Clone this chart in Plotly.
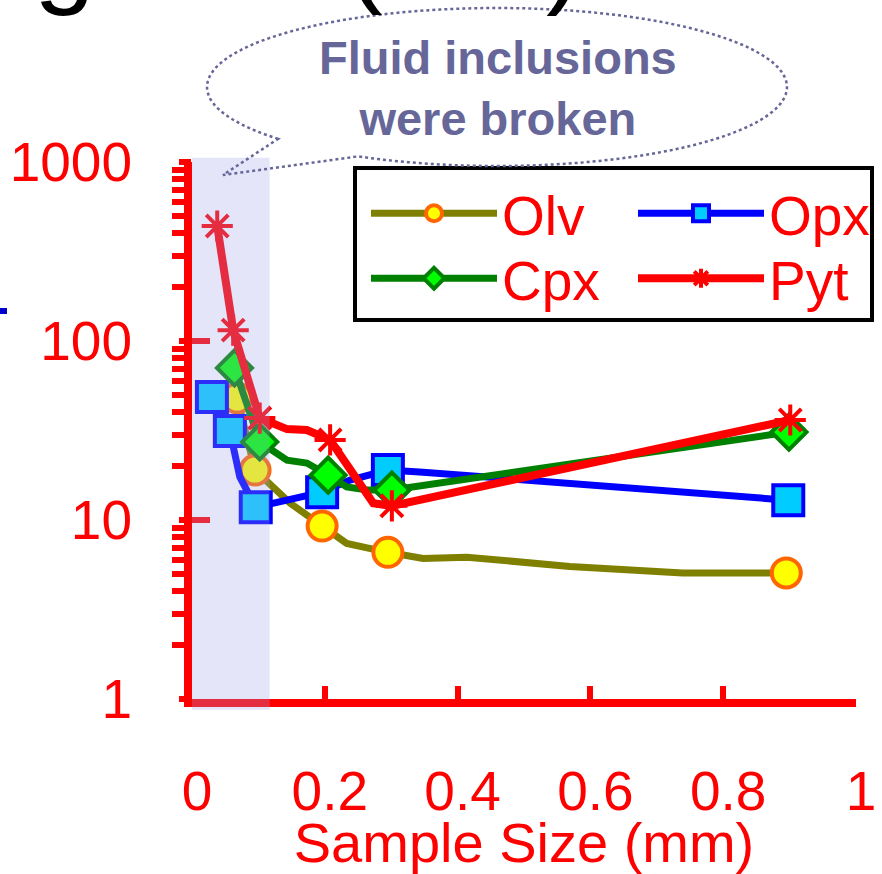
import numpy as np
import plotly.graph_objects as go

# ---------------- data ----------------
# marker flag 1 = point drawn with a marker, 0 = line vertex only
olv_x = [0.068, 0.095, 0.148, 0.196, 0.233, 0.295, 0.348, 0.414, 0.569, 0.739, 0.825, 0.895]
olv_y = [48, 19, 12.4, 9.25, 7.4, 6.6, 6.1, 6.2, 5.5, 5.06, 5.06, 5.06]
olv_mk = [1, 1, 0, 1, 0, 1, 0, 0, 0, 0, 0, 1]

opx_x = [0.030, 0.057, 0.072, 0.096, 0.196, 0.238, 0.295, 0.348, 0.898]
opx_y = [48.7, 31.4, 17.4, 11.8, 14.3, 16.7, 19.0, 18.5, 12.9]
opx_mk = [1, 1, 0, 1, 1, 0, 1, 0, 1]

cpx_x = [0.064, 0.102, 0.143, 0.173, 0.205, 0.233, 0.264, 0.301, 0.899]
cpx_y = [70.7, 27.3, 21.6, 20.8, 17.8, 15.3, 14.7, 14.7, 31]
cpx_mk = [1, 1, 0, 0, 1, 0, 0, 1, 1]

pyt_x = [0.038, 0.062, 0.102, 0.143, 0.173, 0.208, 0.273, 0.301, 0.901]
pyt_y = [439, 115, 37.1, 32.2, 31.8, 28, 12.4, 12.0, 36.2]
pyt_mk = [1, 1, 1, 0, 0, 1, 0, 1, 1]

series_names = ["Olv", "Opx", "Cpx", "Pyt"]
x_ticks = [0, 0.2, 0.4, 0.6, 0.8, 1]
x_tick_text = ["0", "0.2", "0.4", "0.6", "0.8", "1"]
y_ticks = [1, 10, 100, 1000]
y_tick_text = ["1", "10", "100", "1000"]
y_minor = [m * 10 ** d for d in range(3) for m in range(2, 10)]
shade_x = [0, 0.117]

x_title = "Sample Size (mm)"
callout_text = "Fluid inclusions<br>were broken"

# ---------------- styles ----------------
RED = "#FF0000"
FONT = "Liberation Sans, Arial, sans-serif"
W, H = 882, 874
ML, MR, MT, MB = 192, 26, 162, 175
PW, PH = W - ML - MR, H - MT - MB


def px2paper(px, py):
    return (px - ML) / PW, (H - MB - py) / PH


styles = {
    "Olv": dict(line="#808000", fill="#FFFF00", edge="#FF6600", symbol="circle", size=29, mlw=4, lw=7),
    "Opx": dict(line="#0000FF", fill="#00CCFF", edge="#0000FF", symbol="square", size=30, mlw=4, lw=7),
    "Cpx": dict(line="#008000", fill="#00FF00", edge="#008000", symbol="diamond", size=27, mlw=4, lw=7),
    "Pyt": dict(line="#FF0000", fill="#FF0000", edge="#FF0000", symbol="asterisk-open", size=26, mlw=4, lw=8),
}
legend_of = {"Olv": "legend", "Opx": "legend", "Cpx": "legend2", "Pyt": "legend2"}
data = {
    "Olv": (olv_x, olv_y, olv_mk),
    "Opx": (opx_x, opx_y, opx_mk),
    "Cpx": (cpx_x, cpx_y, cpx_mk),
    "Pyt": (pyt_x, pyt_y, pyt_mk),
}

fig = go.Figure()
TR = "rgba(0,0,0,0)"
for name in series_names:
    xs, ys, mk = data[name]
    s = styles[name]
    fig.add_trace(go.Scatter(
        x=xs, y=ys, name=name, mode="lines+markers", legend=legend_of[name],
        line=dict(color=s["line"], width=s["lw"]),
        marker=dict(
            symbol=s["symbol"], size=s["size"],
            color=[s["fill"] if m else TR for m in mk],
            line=dict(color=[s["edge"] if m else TR for m in mk], width=s["mlw"]),
        ),
    ))

# invisible trace to carry the outside half of the major y ticks
fig.add_trace(go.Scatter(x=[None], y=[None], yaxis="y2", showlegend=False, hoverinfo="skip"))

# shaded region (drawn above the lines, translucent)
fig.add_shape(type="rect", xref="x", yref="paper", x0=shade_x[0], x1=shade_x[1],
              y0=-0.02, y1=1.008, fillcolor="rgba(162,162,237,0.28)", line_width=0, layer="above")

# legend frame
f0 = px2paper(355, 168)
f1 = px2paper(872, 320)
fig.add_shape(type="rect", xref="paper", yref="paper", x0=f0[0], y0=f1[1], x1=f1[0], y1=f0[1],
              fillcolor="white", line=dict(color="black", width=4), layer="above")

# callout bubble
cx, cy, rx, ry = 497, 87, 290, 79
t = np.linspace(np.deg2rad(139), np.deg2rad(478.6), 160)
ex = cx + rx * np.cos(t)
ey = cy + ry * np.sin(t)
pts = [px2paper(a, b) for a, b in zip(ex, ey)]
tip = px2paper(223, 175)
path = "M" + " L".join(f"{a:.4f},{b:.4f}" for a, b in pts) + f" L{tip[0]:.4f},{tip[1]:.4f} Z"
fig.add_shape(type="path", xref="paper", yref="paper", path=path,
              line=dict(color="#666699", width=2.5, dash="dot"), fillcolor="rgba(0,0,0,0)")

tx, ty = px2paper(498, 88)
fig.add_annotation(xref="paper", yref="paper", x=tx, y=ty, text=callout_text, showarrow=False,
                   font=dict(family=FONT, size=47, color="#666699", weight="bold"),
                   xanchor="center", yanchor="middle")

# cut-off title fragments at the top edge
for txt, px, py in [("g", 64, -45), ("(", 364, -46), (")", 564, -45)]:
    ax_, ay_ = px2paper(px, py)
    fig.add_annotation(xref="paper", yref="paper", x=ax_, y=ay_, text=txt, showarrow=False,
                       font=dict(family=FONT, size=110, color="black"),
                       xanchor="center", yanchor="middle")

# small blue dash at left edge
b0 = px2paper(0, 311)
b1 = px2paper(7, 311)
fig.add_shape(type="line", xref="paper", yref="paper", x0=b0[0], y0=b0[1], x1=b1[0], y1=b1[1],
              line=dict(color="#0000CC", width=6))

leg_common = dict(
    xanchor="left", yanchor="top", orientation="h", bgcolor="rgba(0,0,0,0)", borderwidth=0,
    font=dict(family=FONT, size=55, color=RED),
    itemwidth=126, entrywidth=126, entrywidthmode="pixels",
)
l1 = px2paper(366, 171)
l2 = px2paper(366, 236)
fig.update_layout(
    width=W, height=H,
    margin=dict(l=ML, r=MR, t=MT, b=MB, autoexpand=False),
    paper_bgcolor="white", plot_bgcolor="white",
    font=dict(family=FONT, color=RED),
    showlegend=True,
    legend=dict(x=l1[0], y=l1[1], **leg_common),
    legend2=dict(x=l2[0], y=l2[1], **leg_common),
    xaxis=dict(
        range=[0, 1], tickvals=x_ticks, ticktext=x_tick_text,
        ticks="inside", ticklen=13, tickwidth=6, tickcolor=RED,
        showline=True, linecolor=RED, linewidth=8, showgrid=False, zeroline=False,
        tickfont=dict(family=FONT, size=55, color=RED), ticklabelstandoff=37, ticklabelshift=5,
        title=dict(text=x_title, font=dict(family=FONT, size=56, color=RED), standoff=8),
    ),
    yaxis=dict(
        type="log", range=[0, 3], tickvals=y_ticks, ticktext=y_tick_text,
        ticks="inside", ticklen=18, tickwidth=6, tickcolor=RED,
        minor=dict(tickvals=y_minor, ticks="outside", ticklen=12, tickwidth=6, tickcolor=RED),
        showline=True, linecolor=RED, linewidth=8, showgrid=False, zeroline=False,
        tickfont=dict(family=FONT, size=55, color=RED), ticklabelstandoff=41,
    ),
    yaxis2=dict(
        type="log", range=[0, 3], overlaying="y", side="left", tickvals=y_ticks,
        ticks="outside", ticklen=12, tickwidth=6, tickcolor=RED,
        showticklabels=False, showline=False, showgrid=False, zeroline=False,
    ),
)

fig.write_html("out.html")
